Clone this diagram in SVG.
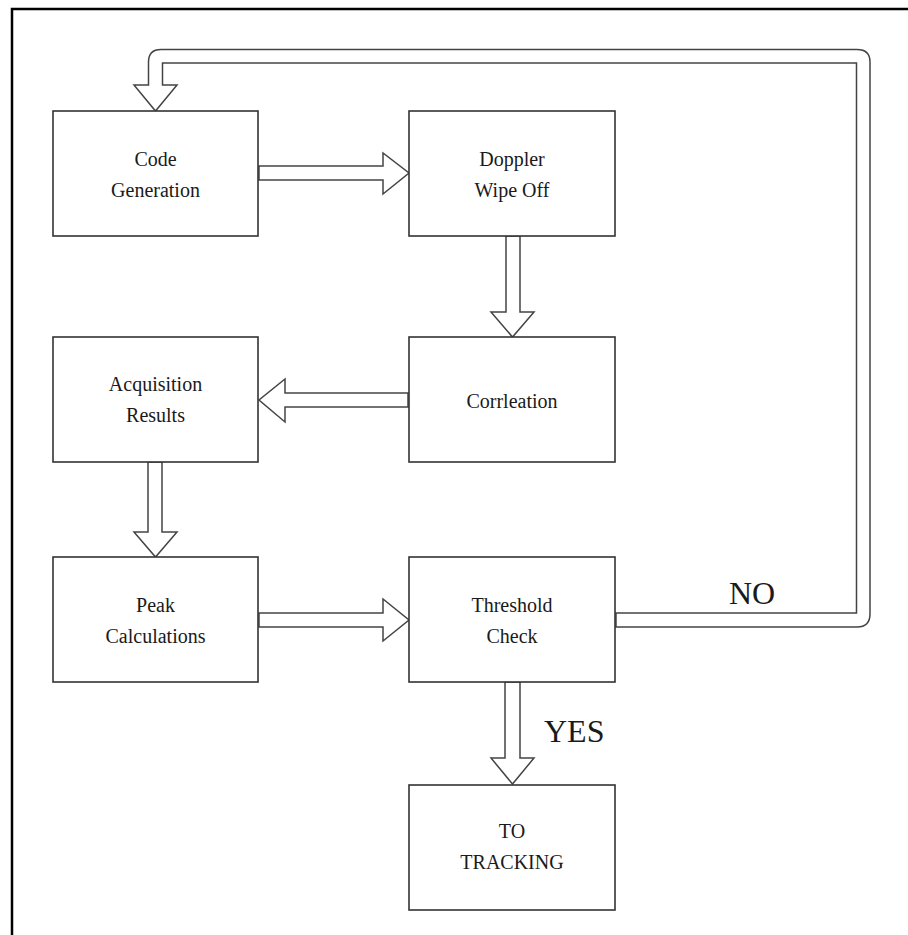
<svg xmlns="http://www.w3.org/2000/svg" width="908" height="935" viewBox="0 0 908 935">
  <style>
    .frame { fill: none; stroke: #000; stroke-width: 2.5; }
    .box rect { fill: #fff; stroke: #333; stroke-width: 1.6; }
    .box text, .label { font-family: "Liberation Serif", "Times New Roman", serif; fill: #1a1a1a; text-anchor: middle; }
    .box text { font-size: 20px; }
    .label { font-size: 32px; text-anchor: start; }
    .arrow { fill: #fff; stroke: #444; stroke-width: 1.5; stroke-linejoin: miter; }
  </style>

  <rect width="908" height="935" fill="#fff"/>
  <!-- outer frame, runs off the right and bottom edges -->
  <path class="frame" d="M12,940 V9 H912"/>

  <g id="connectors">
    <!-- Code Generation -> Doppler Wipe Off -->
    <path class="arrow" d="M259,166 H383 V153 L409,173 L383,194 V180 H259 Z"/>
    <!-- Doppler Wipe Off -> Corrleation -->
    <path class="arrow" d="M506,236 V312 H491 L512.5,337 L534,312 H520 V236 Z"/>
    <!-- Corrleation -> Acquisition Results -->
    <path class="arrow" d="M408,393 H285 V379 L259,400 L285,422 V407 H408 Z"/>
    <!-- Acquisition Results -> Peak Calculations -->
    <path class="arrow" d="M148,462 V532 H134 L155.5,557 L177,532 H162 V462 Z"/>
    <!-- Peak Calculations -> Threshold Check -->
    <path class="arrow" d="M259,613 H383 V599 L409,620 L383,641 V627 H259 Z"/>
    <!-- Threshold Check -> TO TRACKING (YES) -->
    <path class="arrow" d="M505,682 V758 H491 L512.5,784 L534,758 H520 V682 Z"/>
    <!-- Threshold Check -> Code Generation (NO loop) -->
    <path class="arrow" d="M616,613 H856.5 V63 H162.5 V85 H177 L155.5,111 L134,85 H148.5 V62 Q148.5,49.5 161,49.5 H857 Q870,49.5 870,62 V614 Q870,627 857,627 H616 Z"/>
    <text class="label" x="729" y="604">NO</text>
    <text class="label" x="544" y="742">YES</text>
  </g>

  <g id="code-generation" class="box">
    <rect x="53" y="111" width="205" height="125"/>
    <text x="155.5" y="166">Code</text>
    <text x="155.5" y="197">Generation</text>
  </g>
  <g id="doppler-wipe-off" class="box">
    <rect x="409" y="111" width="206" height="125"/>
    <text x="512" y="166">Doppler</text>
    <text x="512" y="197">Wipe Off</text>
  </g>
  <g id="acquisition-results" class="box">
    <rect x="53" y="337" width="205" height="125"/>
    <text x="155.5" y="391">Acquisition</text>
    <text x="155.5" y="422">Results</text>
  </g>
  <g id="corrleation" class="box">
    <rect x="409" y="337" width="206" height="125"/>
    <text x="512" y="408">Corrleation</text>
  </g>
  <g id="peak-calculations" class="box">
    <rect x="53" y="557" width="205" height="125"/>
    <text x="155.5" y="612">Peak</text>
    <text x="155.5" y="643">Calculations</text>
  </g>
  <g id="threshold-check" class="box">
    <rect x="409" y="557" width="206" height="125"/>
    <text x="512" y="612">Threshold</text>
    <text x="512" y="643">Check</text>
  </g>
  <g id="to-tracking" class="box">
    <rect x="409" y="785" width="206" height="125"/>
    <text x="512" y="838">TO</text>
    <text x="512" y="869">TRACKING</text>
  </g>
</svg>
